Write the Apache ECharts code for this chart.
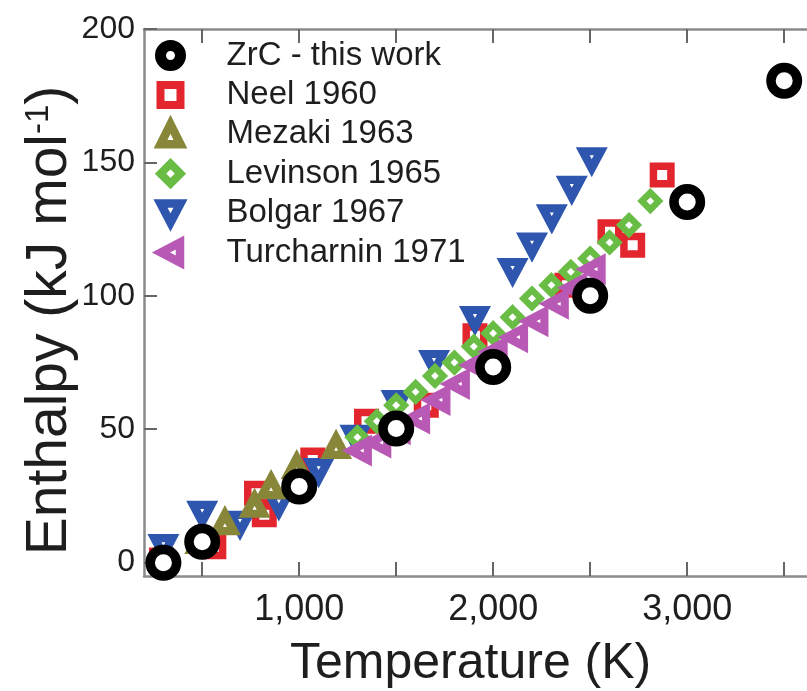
<!DOCTYPE html>
<html>
<head>
<meta charset="utf-8">
<script src="https://cdn.jsdelivr.net/npm/echarts@6/dist/echarts.min.js"></script>
<style>
  html, body { margin: 0; padding: 0; background: #fff; }
  #chart { width: 807px; height: 691px; }
</style>
</head>
<body>
<div id="chart"></div>
<script>
// Enthalpy of ZrC vs temperature, this work compared with literature data.
const seriesNames = ['ZrC - this work', 'Neel 1960', 'Mezaki 1963', 'Levinson 1965', 'Bolgar 1967', 'Turcharnin 1971'];

const zrcT = [300, 500, 1000, 1500, 2000, 2500, 3000, 3500];
const zrcH = [0, 7.8, 28.5, 50.3, 73.3, 100, 135.2, 180.6];

const neelT = [290, 560, 780, 820, 1070, 1347, 1655, 1906, 2380, 2602, 2719, 2871];
const neelH = [1, 6, 26, 18, 38.5, 53, 59, 85, 104, 124, 119, 145.3];

const mezakiT = [490, 617, 770, 855, 987, 1190];
const mezakiH = [8, 15, 21.5, 28.5, 36, 43.6];

const levinsonT = [1300, 1400, 1500, 1600, 1700, 1800, 1900, 2000, 2100, 2200, 2300, 2400, 2500, 2600, 2700, 2810];
const levinsonH = [47, 53, 59, 64, 70, 75, 81, 86, 92, 99, 104, 109, 114, 120, 126.5, 135.5];

const bolgarT = [300, 500, 695, 895, 1100, 1290, 1502, 1695, 1906, 2100, 2200, 2302, 2405, 2508];
const bolgarH = [6, 18.5, 14.7, 22, 34.5, 47, 60, 75, 91.5, 109.5, 119, 129.6, 140.3, 151];

const turchT = [1310, 1410, 1510, 1610, 1715, 1815, 1910, 2010, 2115, 2220, 2325, 2420, 2515];
const turchH = [42, 45, 50, 54, 61, 67, 74, 79, 84.5, 90.5, 97, 103, 110];

const xTicks = [500, 1000, 1500, 2000, 2500, 3000, 3500];
const xLabels = [1000, 2000, 3000];
const yTicks = [0, 50, 100, 150, 200];

const FONT = '"Liberation Sans", Arial, Helvetica, sans-serif';
const AXIS_GRAY = '#8a8a8a';
const TEXT = '#1e1e1e';

const DOWN_TRI = 'path://M0,0L20,0L10,19Z';
const LEFT_TRI = 'path://M0,10L19,0L19,20Z';

// hollow markers: white fill with a thick coloured outline
const styles = [
  { symbol: 'circle',   size: 26.5,     lw: 9.5, color: '#000000', z: 10, legendLw: 11 },
  { symbol: 'rect',     size: 17.5,     lw: 7.5, color: '#e3262d', z: 3,  legendLw: 8 },
  { symbol: 'triangle', size: [18, 17], lw: 8.4, color: '#878639', z: 5,  legendLw: 8.5 },
  { symbol: 'diamond',  size: 17,       lw: 6.5, color: '#69bd45', z: 6,  legendLw: 8 },
  { symbol: DOWN_TRI,   size: [18, 17], lw: 8.4, color: '#2e56ae', z: 4,  legendLw: 8.5 },
  { symbol: LEFT_TRI,   size: [17, 18], lw: 8.4, color: '#b85ab5', z: 7,  legendLw: 8.5 }
];

const dataSets = [
  [zrcT, zrcH], [neelT, neelH], [mezakiT, mezakiH],
  [levinsonT, levinsonH], [bolgarT, bolgarH], [turchT, turchH]
];

function pairs(xs, ys) { return xs.map((x, i) => [x, ys[i]]); }

const series = seriesNames.map((name, i) => {
  const s = styles[i];
  return {
    name: name,
    type: 'scatter',
    z: s.z,
    symbol: s.symbol,
    symbolSize: s.size,
    data: pairs(dataSets[i][0], dataSets[i][1]),
    itemStyle: {
      color: '#ffffff',
      borderColor: s.color,
      borderWidth: s.lw,
      borderJoin: 'miter',
      borderMiterLimit: 10,
      opacity: 1
    },
    emphasis: { disabled: true },
    animation: false
  };
});

const legendData = seriesNames.map((name, i) => ({
  name: name,
  icon: styles[i].symbol,
  itemStyle: {
    color: '#ffffff',
    borderColor: styles[i].color,
    borderWidth: styles[i].legendLw,
    borderJoin: 'miter',
    borderMiterLimit: 10
  }
}));

const X_MIN = 200, X_MAX = 3650;

const chart = echarts.init(document.getElementById('chart'), null, { renderer: 'canvas' });
chart.setOption({
  animation: false,
  backgroundColor: '#ffffff',
  grid: {
    left: 144,
    top: 29,
    width: (X_MAX - X_MIN) * 0.194,
    height: 547,
    outerBoundsMode: 'none',
    containLabel: false
  },
  legend: {
    orient: 'vertical',
    left: 155,
    top: 39,
    padding: 0,
    itemWidth: 20,
    itemHeight: 20,
    itemGap: 6.4,
    selectedMode: false,
    data: legendData,
    textStyle: {
      fontFamily: FONT,
      fontSize: 33,
      color: TEXT,
      lineHeight: 28,
      padding: [0, 0, 0, 41]
    }
  },
  xAxis: [
    {
      type: 'value',
      min: X_MIN,
      max: X_MAX,
      position: 'bottom',
      splitLine: { show: false },
      axisLine: { show: true, onZero: false, lineStyle: { color: AXIS_GRAY, width: 2.5 } },
      axisTick: { show: true, inside: true, length: 14, customValues: xTicks, lineStyle: { color: '#666', width: 2 } },
      axisLabel: {
        show: true,
        customValues: xLabels,
        margin: 16,
        fontFamily: FONT,
        fontSize: 36,
        color: TEXT,
        formatter: v => v.toLocaleString('en-US')
      },
      name: 'Temperature (K)',
      nameLocation: 'middle',
      nameGap: 63,
      nameMoveOverlap: false,
      nameTextStyle: { fontFamily: FONT, fontSize: 50, color: TEXT, padding: [0, 16, 0, 0] }
    },
    {
      type: 'value',
      min: X_MIN,
      max: X_MAX,
      position: 'top',
      splitLine: { show: false },
      axisLine: { show: true, onZero: false, lineStyle: { color: AXIS_GRAY, width: 2.5 } },
      axisTick: { show: true, inside: true, length: 14, customValues: xTicks, lineStyle: { color: '#666', width: 2 } },
      axisLabel: { show: false }
    }
  ],
  yAxis: {
    type: 'value',
    min: -5,
    max: 200,
    splitLine: { show: false },
    axisLine: { show: true, onZero: false, lineStyle: { color: AXIS_GRAY, width: 2.5 } },
    axisTick: { show: true, inside: true, length: 13, customValues: yTicks, lineStyle: { color: '#666', width: 2 } },
    axisLabel: {
      show: true,
      customValues: yTicks,
      margin: 9,
      fontFamily: FONT,
      fontSize: 32,
      color: TEXT
    },
    name: '{a|Enthalpy (kJ mol}{s|-1}{a|)}',
    nameLocation: 'middle',
    nameGap: 65,
    nameMoveOverlap: false,
    nameTextStyle: {
      fontFamily: FONT,
      fontSize: 57,
      color: TEXT,
      padding: [0, 36, 0, 0],
      rich: {
        a: { fontFamily: FONT, fontSize: 57, color: TEXT },
        s: { fontFamily: FONT, fontSize: 33, color: TEXT, verticalAlign: 'top' }
      }
    }
  },
  series: series
});
</script>
</body>
</html>
